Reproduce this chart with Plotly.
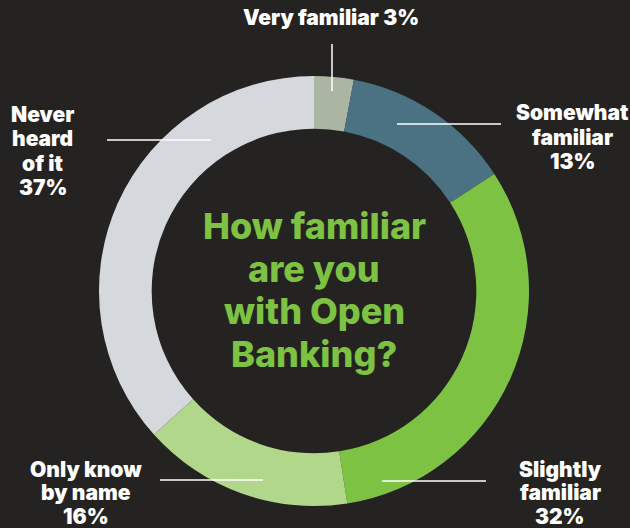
import plotly.graph_objects as go

# Survey responses
categories = ["Very familiar", "Somewhat familiar", "Slightly familiar",
              "Only know by name", "Never heard of it"]
shares = [3, 13, 32, 16, 37]
slice_colors = ["#aab6a3", "#4b7282", "#7dc243", "#b1d88a", "#d5d8dd"]

# Label lines for each category (displayed outside the ring)
label_lines = [
    ["Very familiar 3%"],
    ["Somewhat", "familiar", "13%"],
    ["Slightly", "familiar", "32%"],
    ["Only know", "by name", "16%"],
    ["Never", "heard", "of it", "37%"],
]
center_lines = ["How familiar", "are you", "with Open", "Banking?"]

W, H = 630, 528
BG = "#252322"
GREEN = "#7dc243"
FONT = "Inter"


def px(x):
    return x / W


def py(y):
    return 1 - y / H


fig = go.Figure(go.Pie(
    labels=categories,
    values=shares,
    sort=False,
    direction="clockwise",
    rotation=0,
    hole=0.755,
    marker=dict(colors=slice_colors, line=dict(width=0)),
    textinfo="none",
    hoverinfo="label+percent",
    domain=dict(x=[px(99), px(529)], y=[py(506), py(76)]),
    showlegend=False,
))

# label anchor (centre x, first-line y, line step) and leader line segments
label_pos = [
    (331, 18, 24),
    (572, 113, 24),
    (560, 469, 23.5),
    (86, 469, 23.5),
    (43, 115, 24),
]
leaders = [
    ((332, 44), (332, 91)),
    ((397, 124), (501, 124)),
    ((382, 481), (486, 481)),
    ((160, 480), (263, 480)),
    ((107, 140), (211, 140)),
]

annotations = []
for lines, (cx, y0, step) in zip(label_lines, label_pos):
    for i, t in enumerate(lines):
        annotations.append(dict(
            text=t, x=px(cx), y=py(y0 + i * step), xref="paper", yref="paper",
            xanchor="center", yanchor="middle", showarrow=False,
            font=dict(family=FONT, size=21, color="white", weight=900),
        ))

for i, t in enumerate(center_lines):
    annotations.append(dict(
        text=t, x=px(314), y=py(226 + i * 42.5), xref="paper", yref="paper",
        xanchor="center", yanchor="middle", showarrow=False,
        font=dict(family=FONT, size=36, color=GREEN, weight=800),
    ))

shapes = [
    dict(type="line", xref="paper", yref="paper",
         x0=px(a[0]), y0=py(a[1]), x1=px(b[0]), y1=py(b[1]),
         line=dict(color="white", width=1.5))
    for a, b in leaders
]

fig.update_layout(
    width=W, height=H,
    margin=dict(l=0, r=0, t=0, b=0),
    paper_bgcolor=BG, plot_bgcolor=BG,
    annotations=annotations,
    shapes=shapes,
)

fig.write_html("out.html")
